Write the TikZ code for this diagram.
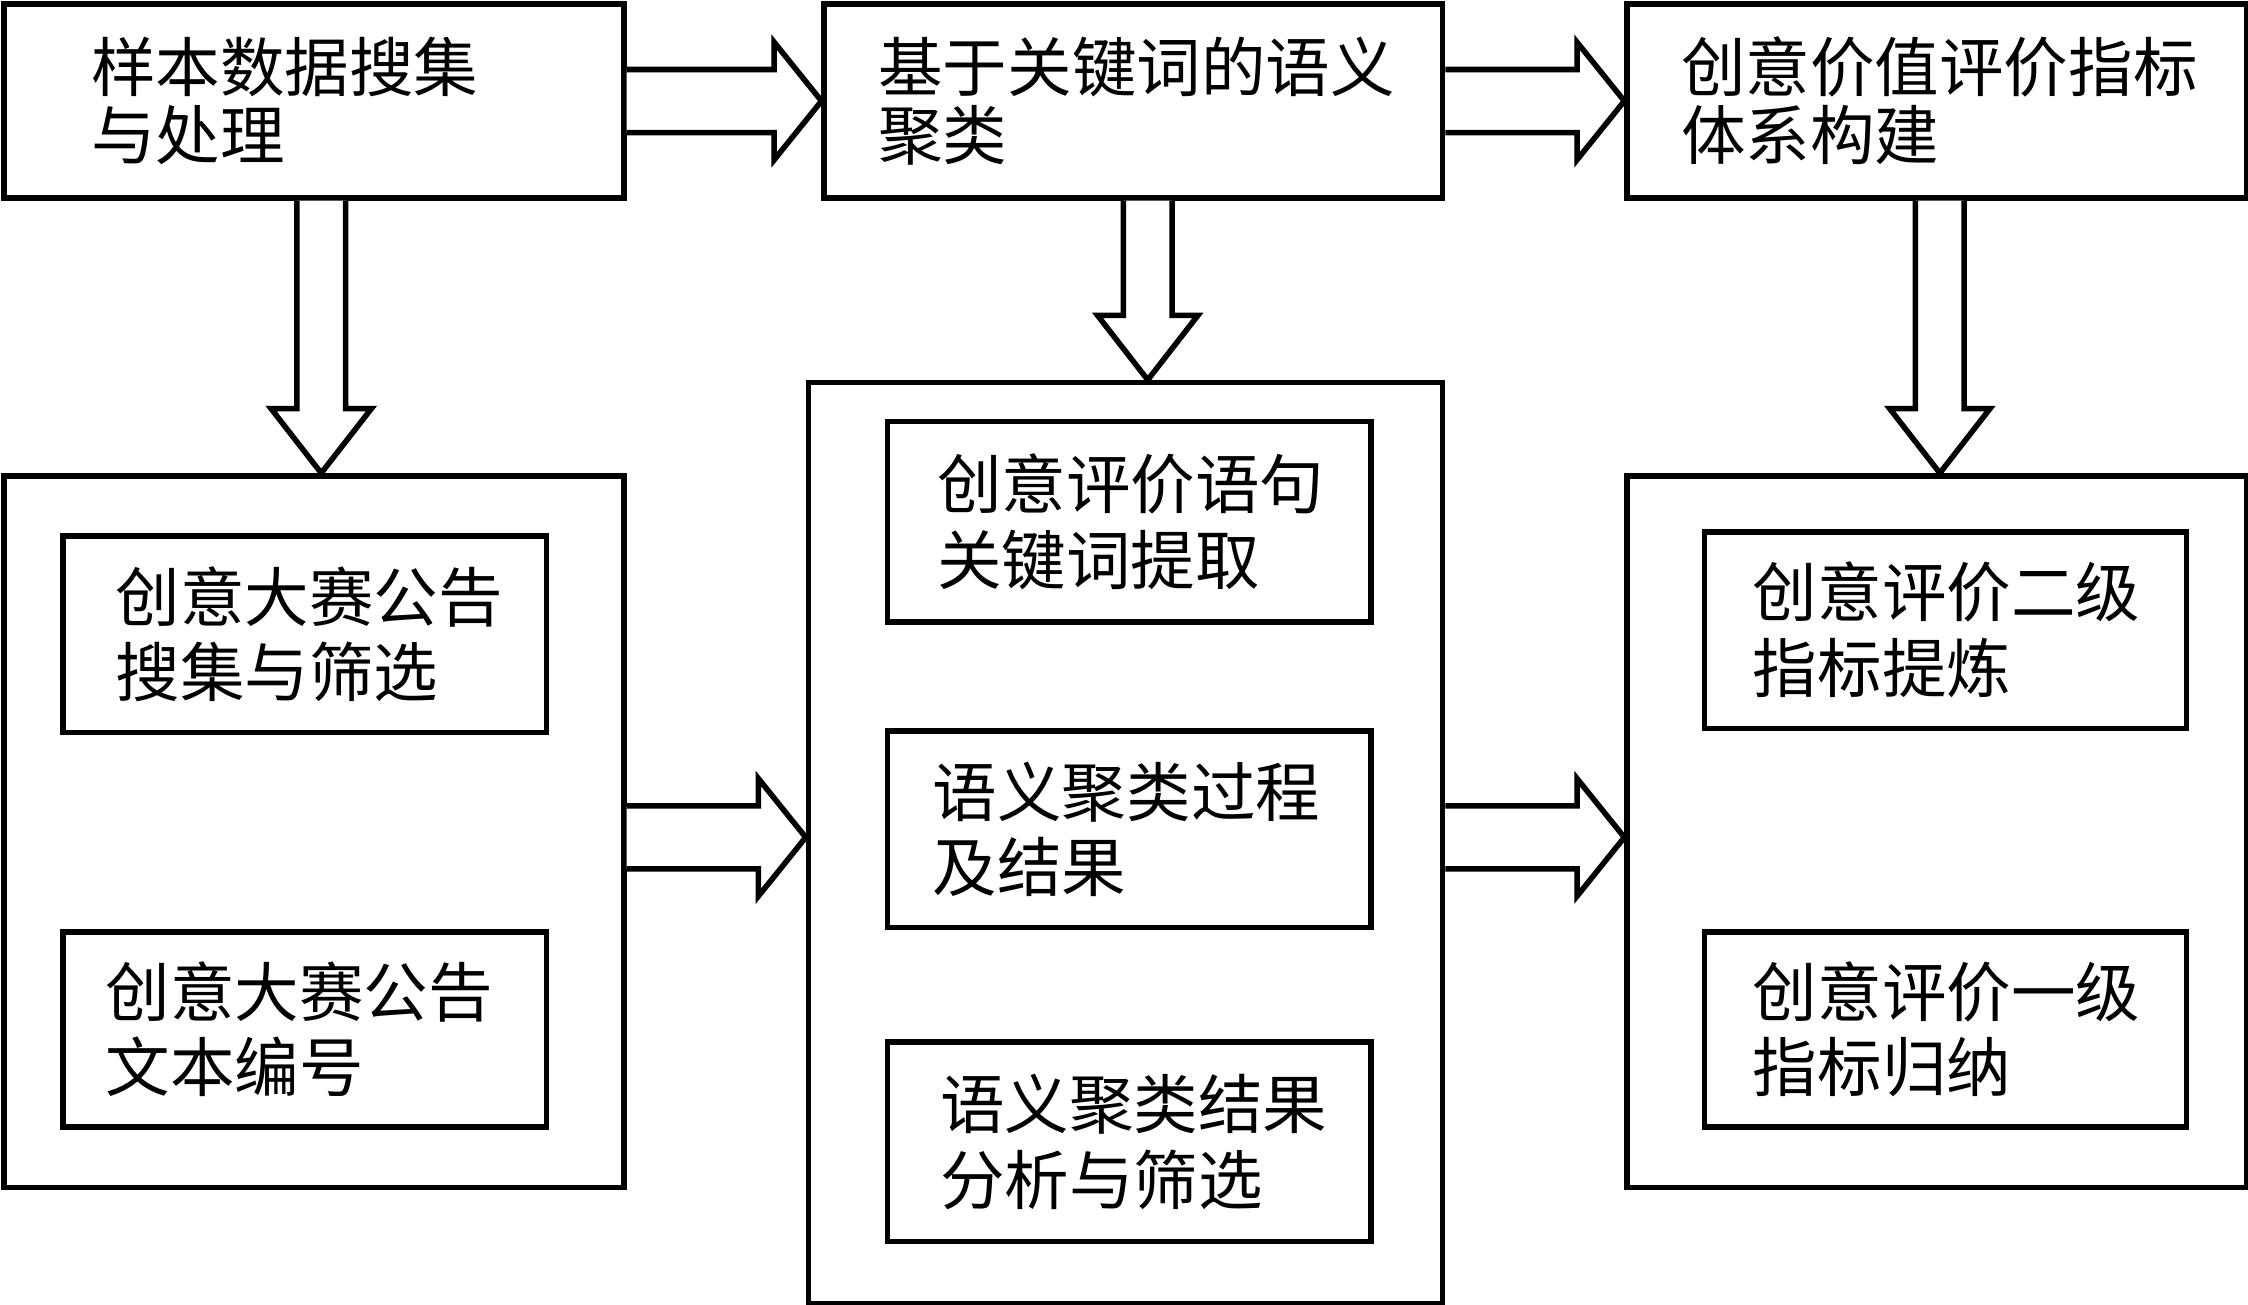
\documentclass[tikz,border=0pt]{standalone}
\usepackage{fontspec}
\newfontfamily\cjk{Noto Sans CJK SC}
\usetikzlibrary{calc}

\begin{document}
\begin{tikzpicture}[x=0.01cm, y=-0.01cm,
    box/.style={rectangle, draw, line width=1.1pt, anchor=north west, inner sep=0pt},
    lbl/.style={anchor=west, align=left, inner sep=0pt, font=\cjk\fontsize{12.8pt}{13.5pt}\selectfont},
    ilbl/.style={lbl, font=\cjk\fontsize{12.8pt}{15pt}\selectfont},
    blk/.style={draw, line width=1.1pt, fill=white, line join=miter}]
    \useasboundingbox (0,0) rectangle (1568,910);

    % Top row
    \node[box, minimum width=4.32cm, minimum height=1.35cm] (A) at (1,1) {};
    \node[box, minimum width=4.31cm, minimum height=1.35cm] (B) at (573,1) {};
    \node[box, minimum width=4.32cm, minimum height=1.35cm] (C) at (1133,1) {};
    \node[lbl] (tA) at ($(A.west)+(62,0)$) {样本数据搜集\\与处理};
    \node[lbl] (tB) at ($(B.west)+(39,0)$) {基于关键词的语义\\聚类};
    \node[lbl] (tC) at ($(C.west)+(39,0)$) {创意价值评价指标\\体系构建};

    % Outer boxes
    \node[box, minimum width=4.32cm, minimum height=4.96cm] (L) at (1,330) {};
    \node[box, minimum width=4.42cm, minimum height=6.42cm] (M) at (562,265) {};
    \node[box, minimum width=4.32cm, minimum height=4.96cm] (R) at (1133,330) {};

    % Inner boxes
    \node[box, minimum width=3.37cm, minimum height=1.37cm] (L1) at (42,372) {};
    \node[box, minimum width=3.37cm, minimum height=1.36cm] (L2) at (42,648) {};
    \node[box, minimum width=3.37cm, minimum height=1.40cm] (M1) at (617,292) {};
    \node[box, minimum width=3.37cm, minimum height=1.37cm] (M2) at (617,508) {};
    \node[box, minimum width=3.37cm, minimum height=1.39cm] (M3) at (617,725) {};
    \node[box, minimum width=3.36cm, minimum height=1.37cm] (R1) at (1187,369) {};
    \node[box, minimum width=3.36cm, minimum height=1.36cm] (R2) at (1187,648) {};
    \node[ilbl] (tL1) at ($(L1.west)+(38,0)$) {创意大赛公告\\搜集与筛选};
    \node[ilbl] (tL2) at ($(L2.west)+(31,0)$) {创意大赛公告\\文本编号};
    \node[ilbl] (tM1) at ($(M1.west)+(36,0)$) {创意评价语句\\关键词提取};
    \node[ilbl] (tM2) at ($(M2.west)+(33,0)$) {语义聚类过程\\及结果};
    \node[ilbl] (tM3) at ($(M3.west)+(38,0)$) {语义聚类结果\\分析与筛选};
    \node[ilbl] (tR1) at ($(R1.west)+(35,0)$) {创意评价二级\\指标提炼};
    \node[ilbl] (tR2) at ($(R2.west)+(35,0)$) {创意评价一级\\指标归纳};

    % Connector points
    \coordinate (lm) at ($(L.east)+(0,4)$);
    \coordinate (ml) at (lm -| M.west);
    \coordinate (mr) at (lm -| M.east);
    \coordinate (rl) at (lm -| R.west);
    \coordinate (ad) at ($(A.south)+(5,0)$);
    \coordinate (lu) at (ad |- L.north);
    \coordinate (bd) at ($(B.south)+(10,0)$);
    \coordinate (mu) at (bd |- M.north);
    \coordinate (cd) at ($(C.south)+(2,0)$);
    \coordinate (ru) at (cd |- R.north);

    % Right block arrows
    \foreach \a/\b in {A.east/B.west, B.east/C.west, lm/ml, mr/rl} {
        \draw[blk] ($(\a)+(0,-22)$) -- ($(\b)+(-33,-22)$) -- ($(\b)+(-33,-41)$) -- (\b)
            -- ($(\b)+(-33,41)$) -- ($(\b)+(-33,22)$) -- ($(\a)+(0,22)$);
    }
    % Down block arrows
    \foreach \a/\b in {ad/lu, bd/mu, cd/ru} {
        \draw[blk] ($(\a)+(-17,0)$) -- ($(\b)+(-17,-45)$) -- ($(\b)+(-35,-45)$) -- (\b)
            -- ($(\b)+(35,-45)$) -- ($(\b)+(17,-45)$) -- ($(\a)+(17,0)$);
    }
\end{tikzpicture}
\end{document}
